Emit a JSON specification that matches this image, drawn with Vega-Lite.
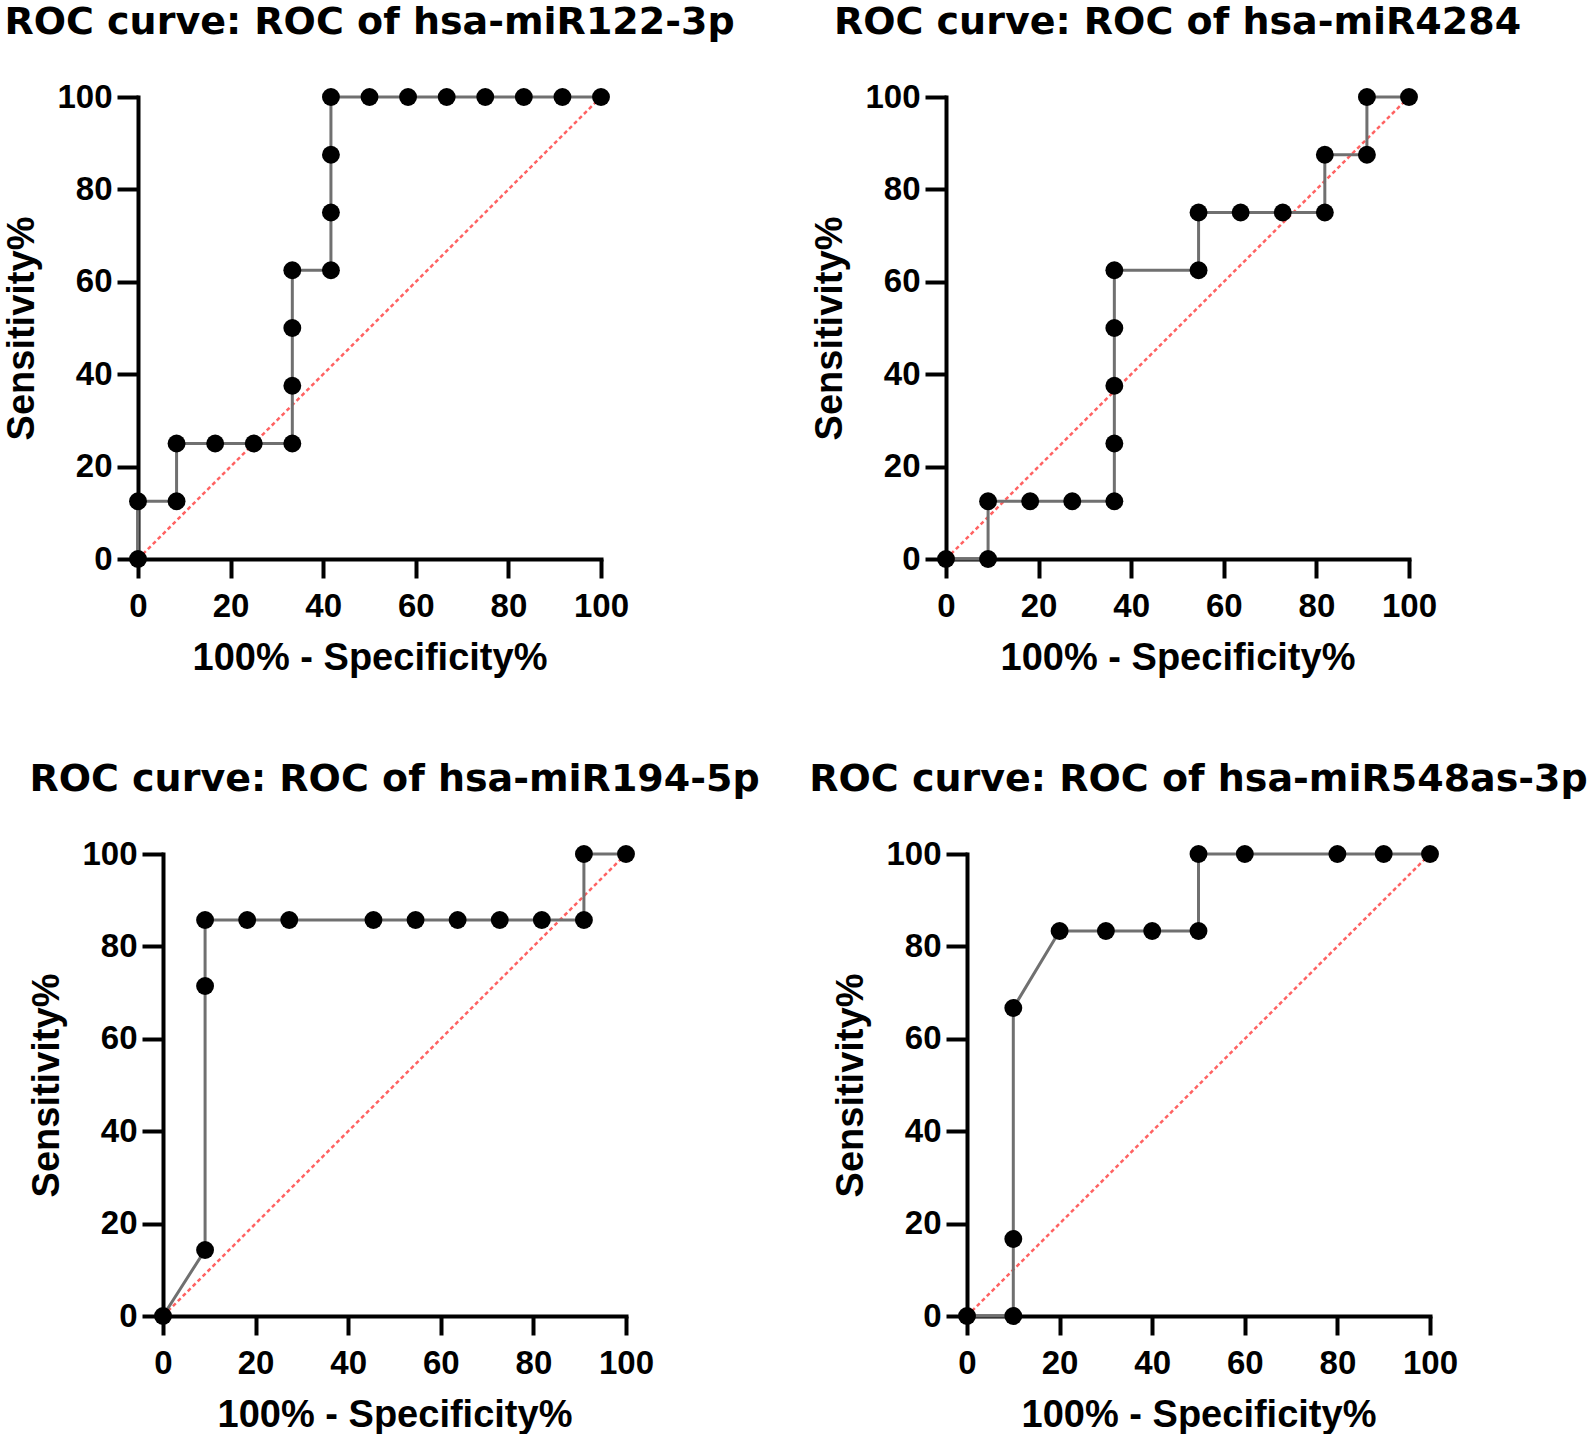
{
  "$schema": "https://vega.github.io/schema/vega-lite/v6.json",
  "background": "white",
  "padding": {"top": 4, "left": 3, "right": 0, "bottom": 0},
  "datasets": {
    "diag": [{"fpr": 0, "sens": 0}, {"fpr": 100, "sens": 100}],
    "a": [
      {"step": 0, "fpr": 0, "sens": 0}, {"step": 1, "fpr": 0, "sens": 12.5}, {"step": 2, "fpr": 8.33, "sens": 12.5},
      {"step": 3, "fpr": 8.33, "sens": 25}, {"step": 4, "fpr": 16.67, "sens": 25}, {"step": 5, "fpr": 25, "sens": 25},
      {"step": 6, "fpr": 33.33, "sens": 25}, {"step": 7, "fpr": 33.33, "sens": 37.5}, {"step": 8, "fpr": 33.33, "sens": 50},
      {"step": 9, "fpr": 33.33, "sens": 62.5}, {"step": 10, "fpr": 41.67, "sens": 62.5}, {"step": 11, "fpr": 41.67, "sens": 75},
      {"step": 12, "fpr": 41.67, "sens": 87.5}, {"step": 13, "fpr": 41.67, "sens": 100}, {"step": 14, "fpr": 50, "sens": 100},
      {"step": 15, "fpr": 58.33, "sens": 100}, {"step": 16, "fpr": 66.67, "sens": 100}, {"step": 17, "fpr": 75, "sens": 100},
      {"step": 18, "fpr": 83.33, "sens": 100}, {"step": 19, "fpr": 91.67, "sens": 100}, {"step": 20, "fpr": 100, "sens": 100}
    ],
    "b": [
      {"step": 0, "fpr": 0, "sens": 0}, {"step": 1, "fpr": 9.09, "sens": 0}, {"step": 2, "fpr": 9.09, "sens": 12.5},
      {"step": 3, "fpr": 18.18, "sens": 12.5}, {"step": 4, "fpr": 27.27, "sens": 12.5}, {"step": 5, "fpr": 36.36, "sens": 12.5},
      {"step": 6, "fpr": 36.36, "sens": 25}, {"step": 7, "fpr": 36.36, "sens": 37.5}, {"step": 8, "fpr": 36.36, "sens": 50},
      {"step": 9, "fpr": 36.36, "sens": 62.5}, {"step": 10, "fpr": 54.55, "sens": 62.5}, {"step": 11, "fpr": 54.55, "sens": 75},
      {"step": 12, "fpr": 63.64, "sens": 75}, {"step": 13, "fpr": 72.73, "sens": 75}, {"step": 14, "fpr": 81.82, "sens": 75},
      {"step": 15, "fpr": 81.82, "sens": 87.5}, {"step": 16, "fpr": 90.91, "sens": 87.5}, {"step": 17, "fpr": 90.91, "sens": 100},
      {"step": 18, "fpr": 100, "sens": 100}
    ],
    "c": [
      {"step": 0, "fpr": 0, "sens": 0}, {"step": 1, "fpr": 9.09, "sens": 14.29}, {"step": 2, "fpr": 9.09, "sens": 71.43},
      {"step": 3, "fpr": 9.09, "sens": 85.71}, {"step": 4, "fpr": 18.18, "sens": 85.71}, {"step": 5, "fpr": 27.27, "sens": 85.71},
      {"step": 6, "fpr": 45.45, "sens": 85.71}, {"step": 7, "fpr": 54.55, "sens": 85.71}, {"step": 8, "fpr": 63.64, "sens": 85.71},
      {"step": 9, "fpr": 72.73, "sens": 85.71}, {"step": 10, "fpr": 81.82, "sens": 85.71}, {"step": 11, "fpr": 90.91, "sens": 85.71},
      {"step": 12, "fpr": 90.91, "sens": 100}, {"step": 13, "fpr": 100, "sens": 100}
    ],
    "d": [
      {"step": 0, "fpr": 0, "sens": 0}, {"step": 1, "fpr": 10, "sens": 0}, {"step": 2, "fpr": 10, "sens": 16.67},
      {"step": 3, "fpr": 10, "sens": 66.67}, {"step": 4, "fpr": 20, "sens": 83.33}, {"step": 5, "fpr": 30, "sens": 83.33},
      {"step": 6, "fpr": 40, "sens": 83.33}, {"step": 7, "fpr": 50, "sens": 83.33}, {"step": 8, "fpr": 50, "sens": 100},
      {"step": 9, "fpr": 60, "sens": 100}, {"step": 10, "fpr": 80, "sens": 100}, {"step": 11, "fpr": 90, "sens": 100},
      {"step": 12, "fpr": 100, "sens": 100}
    ]
  },
  "config": {
    "view": {"stroke": null},
    "font": "Liberation Sans",
    "axis": {
      "grid": false, "domainColor": "black", "domainWidth": 4, "domainCap": "square",
      "tickColor": "black", "tickWidth": 4,
      "labelFont": "Liberation Sans", "labelFontSize": 33, "labelFontWeight": "bold", "labelColor": "black",
      "labelFlush": false, "labelOverlap": false,
      "titleFont": "Liberation Sans", "titleFontSize": 38, "titleFontWeight": "bold", "titleColor": "black"
    },
    "axisX": {"tickSize": 19, "labelPadding": 12, "titlePadding": 16},
    "axisY": {"tickSize": 21, "labelPadding": 5, "titlePadding": 15},
    "title": {"font": "DejaVu Sans", "fontSize": 38, "fontWeight": "bold", "color": "black", "anchor": "middle", "frame": "group", "offset": 39}
  },
  "spacing": 84,
  "vconcat": [
    {
      "spacing": 76,
      "hconcat": [
        {
          "title": "ROC curve: ROC of hsa-miR122-3p",
          "width": 463, "height": 462,
          "encoding": {
            "x": {"field": "fpr", "type": "quantitative", "scale": {"domain": [0, 100], "nice": false}, "axis": {"values": [0, 20, 40, 60, 80, 100], "title": "100% - Specificity%"}},
            "y": {"field": "sens", "type": "quantitative", "scale": {"domain": [0, 100], "nice": false}, "axis": {"values": [0, 20, 40, 60, 80, 100], "title": "Sensitivity%"}}
          },
          "layer": [
            {"data": {"name": "diag"}, "mark": {"type": "line", "color": "#ff6262", "strokeDash": [4, 3], "strokeWidth": 2.5}},
            {"data": {"name": "a"}, "mark": {"type": "line", "color": "#707070", "strokeWidth": 3}, "encoding": {"order": {"field": "step", "type": "quantitative"}}},
            {"data": {"name": "a"}, "mark": {"type": "circle", "size": 320, "color": "black", "opacity": 1}}
          ]
        },
        {
          "title": "ROC curve: ROC of hsa-miR4284",
          "width": 463, "height": 462,
          "encoding": {
            "x": {"field": "fpr", "type": "quantitative", "scale": {"domain": [0, 100], "nice": false}, "axis": {"values": [0, 20, 40, 60, 80, 100], "title": "100% - Specificity%"}},
            "y": {"field": "sens", "type": "quantitative", "scale": {"domain": [0, 100], "nice": false}, "axis": {"values": [0, 20, 40, 60, 80, 100], "title": "Sensitivity%"}}
          },
          "layer": [
            {"data": {"name": "diag"}, "mark": {"type": "line", "color": "#ff6262", "strokeDash": [4, 3], "strokeWidth": 2.5}},
            {"data": {"name": "b"}, "mark": {"type": "line", "color": "#707070", "strokeWidth": 3}, "encoding": {"order": {"field": "step", "type": "quantitative"}}},
            {"data": {"name": "b"}, "mark": {"type": "circle", "size": 320, "color": "black", "opacity": 1}}
          ]
        }
      ]
    },
    {
      "spacing": 49,
      "hconcat": [
        {
          "title": {"text": "ROC curve: ROC of hsa-miR194-5p", "dx": 12.5},
          "width": 488, "height": 462,
          "encoding": {
            "x": {"field": "fpr", "type": "quantitative", "scale": {"domain": [0, 100], "nice": false, "range": [25, 488]}, "axis": {"values": [0, 20, 40, 60, 80, 100], "title": "100% - Specificity%"}},
            "y": {"field": "sens", "type": "quantitative", "scale": {"domain": [0, 100], "nice": false}, "axis": {"values": [0, 20, 40, 60, 80, 100], "title": "Sensitivity%", "offset": -25}}
          },
          "layer": [
            {"data": {"name": "diag"}, "mark": {"type": "line", "color": "#ff6262", "strokeDash": [4, 3], "strokeWidth": 2.5}},
            {"data": {"name": "c"}, "mark": {"type": "line", "color": "#707070", "strokeWidth": 3}, "encoding": {"order": {"field": "step", "type": "quantitative"}}},
            {"data": {"name": "c"}, "mark": {"type": "circle", "size": 320, "color": "black", "opacity": 1}}
          ]
        },
        {
          "title": "ROC curve: ROC of hsa-miR548as-3p",
          "width": 463, "height": 462,
          "encoding": {
            "x": {"field": "fpr", "type": "quantitative", "scale": {"domain": [0, 100], "nice": false}, "axis": {"values": [0, 20, 40, 60, 80, 100], "title": "100% - Specificity%"}},
            "y": {"field": "sens", "type": "quantitative", "scale": {"domain": [0, 100], "nice": false}, "axis": {"values": [0, 20, 40, 60, 80, 100], "title": "Sensitivity%"}}
          },
          "layer": [
            {"data": {"name": "diag"}, "mark": {"type": "line", "color": "#ff6262", "strokeDash": [4, 3], "strokeWidth": 2.5}},
            {"data": {"name": "d"}, "mark": {"type": "line", "color": "#707070", "strokeWidth": 3}, "encoding": {"order": {"field": "step", "type": "quantitative"}}},
            {"data": {"name": "d"}, "mark": {"type": "circle", "size": 320, "color": "black", "opacity": 1}}
          ]
        }
      ]
    }
  ]
}
